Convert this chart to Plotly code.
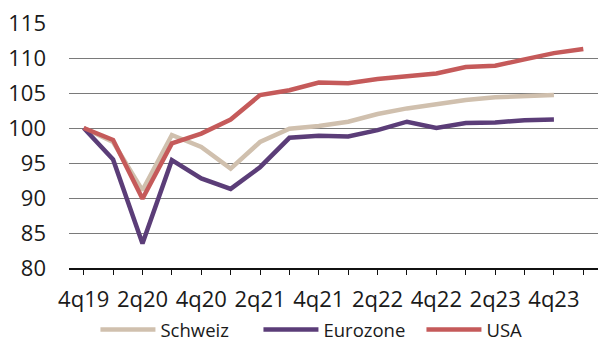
import plotly.graph_objects as go

# Quarterly GDP index, 4q19 = 100
quarters = ["4q19", "1q20", "2q20", "3q20", "4q20", "1q21", "2q21", "3q21", "4q21",
            "1q22", "2q22", "3q22", "4q22", "1q23", "2q23", "3q23", "4q23", "1q24"]

schweiz = [100.0, 98.0, 91.1, 99.0, 97.3, 94.2, 98.0, 99.9, 100.3,
           100.9, 102.0, 102.8, 103.4, 104.0, 104.4, 104.5, 104.7]
eurozone = [100.0, 95.5, 83.5, 95.4, 92.8, 91.3, 94.4, 98.6, 98.9,
            98.8, 99.7, 100.9, 100.0, 100.7, 100.8, 101.1, 101.2]
usa = [100.0, 98.3, 89.9, 97.8, 99.2, 101.2, 104.7, 105.4, 106.5,
       106.4, 107.0, 107.4, 107.8, 108.7, 108.9, 109.8, 110.7, 111.3]

y_ticks = [80, 85, 90, 95, 100, 105, 110, 115]

series = [
    ("Schweiz", schweiz, "#D0C0AE"),
    ("Eurozone", eurozone, "#5B3D78"),
    ("USA", usa, "#C55A5A"),
]

fig = go.Figure()
for name, vals, color in series:
    fig.add_trace(go.Scatter(
        x=quarters[:len(vals)], y=vals, name=name, mode="lines",
        line=dict(color=color, width=4.5),
    ))

text_color = "#1a1a1a"
fig.update_layout(
    width=599, height=341,
    margin=dict(l=69, r=1, t=23, b=73, autoexpand=False),
    paper_bgcolor="white", plot_bgcolor="white",
    font=dict(family="Open Sans", size=22, color=text_color),
    showlegend=True,
    legend=dict(
        orientation="h", x=0.05, xanchor="left", y=-0.253, yanchor="middle",
        font=dict(size=18.5), itemwidth=55, entrywidth=93, entrywidthmode="pixels",
        tracegroupgap=0, bgcolor="rgba(0,0,0,0)",
    ),
)
fig.update_xaxes(
    type="category", categoryorder="array", categoryarray=quarters,
    range=[-0.5, len(quarters) - 0.5],
    tickmode="array", tickvals=quarters,
    ticktext=[q if i % 2 == 0 else "" for i, q in enumerate(quarters)],
    ticks="outside", ticklen=5, tickwidth=1.3, tickcolor="#111111",
    showline=True, linecolor="#111111", linewidth=1.8,
    showgrid=False, zeroline=False, ticklabelstandoff=6,
)
fig.update_yaxes(
    range=[80, 115], tickvals=y_ticks,
    showgrid=True, gridcolor="#7a7a7a", gridwidth=1.2,
    showline=False, zeroline=False, ticks="", ticklabelstandoff=22,
)

fig.write_html("out.html")
